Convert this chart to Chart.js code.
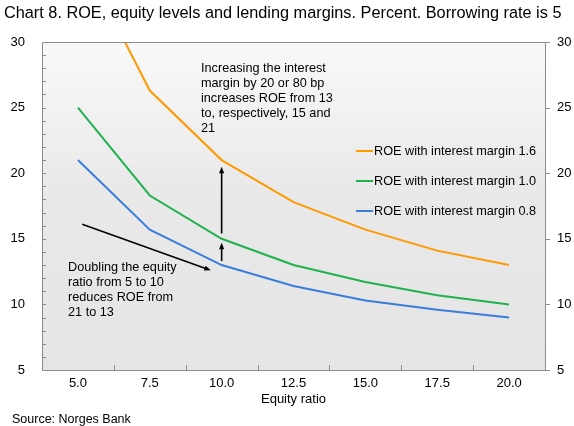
<!DOCTYPE html>
<html>
<head>
<meta charset="utf-8">
<script src="https://cdn.jsdelivr.net/npm/chart.js@4/dist/chart.umd.min.js"></script>
<style>
  html, body { margin: 0; padding: 0; background: #fff; }
  #wrap { width: 574px; height: 426px; position: relative; }
</style>
</head>
<body>
<div id="wrap"><canvas id="roeChart" width="574" height="426"></canvas></div>
<script>
const equityRatios = ["5.0", "7.5", "10.0", "12.5", "15.0", "17.5", "20.0"];
const roeMargin16 = [37, 26.3, 21, 17.8, 15.7, 14.1, 13];
const roeMargin10 = [25, 18.3, 15, 13, 11.7, 10.7, 10];
const roeMargin08 = [21, 15.7, 13, 11.4, 10.3, 9.6, 9];
const seriesNames = ["ROE with interest margin 1.6", "ROE with interest margin 1.0", "ROE with interest margin 0.8"];
const seriesColors = ["#ff9900", "#1fb24e", "#3b7ddb"];
const yMin = 5, yMax = 30;

const FONT = "'Liberation Sans', Arial, sans-serif";
const frameColor = "#8c8c8c";

function arrow(ctx, x1, y1, x2, y2) {
    const ang = Math.atan2(y2 - y1, x2 - x1);
    const head = 7, spread = 0.38;
    ctx.beginPath();
    ctx.moveTo(x1, y1);
    ctx.lineTo(x2 - Math.cos(ang) * 4, y2 - Math.sin(ang) * 4);
    ctx.stroke();
    ctx.beginPath();
    ctx.moveTo(x2, y2);
    ctx.lineTo(x2 - head * Math.cos(ang - spread), y2 - head * Math.sin(ang - spread));
    ctx.lineTo(x2 - head * Math.cos(ang + spread), y2 - head * Math.sin(ang + spread));
    ctx.closePath();
    ctx.fill();
}

// plot background, frame, custom ticks
const backdrop = {
    id: "backdrop",
    beforeDatasetsDraw(chart) {
        const { ctx, chartArea: a } = chart;
        ctx.save();
        const g = ctx.createLinearGradient(0, a.top, 0, a.bottom);
        g.addColorStop(0, "#f9f9f9");
        g.addColorStop(0.45, "#e9e9e9");
        g.addColorStop(1, "#e5e5e5");
        ctx.fillStyle = g;
        ctx.fillRect(a.left, a.top, a.right - a.left, a.bottom - a.top);
        ctx.restore();
    },
    afterDatasetsDraw(chart) {
        const { ctx, chartArea: a, scales } = chart;
        const y = scales.y, x = scales.x;
        ctx.save();
        ctx.strokeStyle = frameColor;
        ctx.lineWidth = 1;
        ctx.beginPath();
        ctx.rect(Math.round(a.left) + 0.5, Math.round(a.top) + 0.5, Math.round(a.right - a.left), Math.round(a.bottom - a.top));
        ctx.stroke();
        // left minor ticks, inward
        ctx.beginPath();
        for (let v = yMin + 1; v < yMax; v++) {
            const py = Math.round(y.getPixelForValue(v)) + 0.5;
            ctx.moveTo(a.left, py);
            ctx.lineTo(a.left + 4, py);
        }
        // right major ticks, outward
        for (let v = yMin; v <= yMax; v += 5) {
            const py = Math.round(y.getPixelForValue(v)) + 0.5;
            ctx.moveTo(a.right, py);
            ctx.lineTo(a.right + 5, py);
        }
        // x ticks at category boundaries, inward
        for (let i = 0; i < equityRatios.length - 1; i++) {
            const px = Math.round(x.getPixelForValue(i + 0.5)) + 0.5;
            ctx.moveTo(px, a.bottom);
            ctx.lineTo(px, a.bottom - 5);
        }
        ctx.stroke();
        ctx.restore();
    },
    afterDraw(chart) {
        const { ctx, chartArea: a, scales } = chart;
        const x = scales.x, y = scales.y;
        ctx.save();
        ctx.fillStyle = "#000";
        ctx.textBaseline = "middle";
        ctx.font = "16.3px " + FONT;
        ctx.fillText("Chart 8. ROE, equity levels and lending margins. Percent. Borrowing rate is 5", 4, 14);
        ctx.font = "13px " + FONT;
        ctx.textAlign = "center";
        ctx.fillText("Equity ratio", (a.left + a.right) / 2, 399);
        ctx.textAlign = "left";
        ctx.font = "12.5px " + FONT;
        ctx.fillText("Source: Norges Bank", 12, 420);

        // legend
        ctx.font = "12.7px " + FONT;
        const legY = [151, 181, 211];
        seriesNames.forEach((name, i) => {
            ctx.strokeStyle = seriesColors[i];
            ctx.lineWidth = 2;
            ctx.beginPath();
            ctx.moveTo(356, legY[i]);
            ctx.lineTo(373, legY[i]);
            ctx.stroke();
            ctx.fillStyle = "#000";
            ctx.fillText(name, 374, legY[i]);
        });

        // annotations
        const noteA = ["Increasing the interest", "margin by 20 or 80 bp", "increases ROE from 13", "to, respectively, 15 and", "21"];
        noteA.forEach((t, i) => ctx.fillText(t, 201, 68 + i * 15.2));
        const noteB = ["Doubling the equity", "ratio from 5 to 10", "reduces ROE from", "21 to 13"];
        noteB.forEach((t, i) => ctx.fillText(t, 68, 267 + i * 15.2));

        ctx.strokeStyle = "#000";
        ctx.fillStyle = "#000";
        ctx.lineWidth = 1.6;
        const x10 = x.getPixelForValue(2);
        arrow(ctx, x10, y.getPixelForValue(13.3), x10, y.getPixelForValue(14.7));
        arrow(ctx, x10, y.getPixelForValue(15.4), x10, y.getPixelForValue(20.5));
        arrow(ctx, x.getPixelForValue(0.06), y.getPixelForValue(16.1), x.getPixelForValue(1.85), y.getPixelForValue(12.6));
        ctx.restore();
    }
};

const makeSet = (label, data, color) => ({
    label, data,
    borderColor: color,
    backgroundColor: color,
    borderWidth: 2,
    pointRadius: 0,
    tension: 0,
    fill: false
});

new Chart(document.getElementById("roeChart"), {
    type: "line",
    data: {
        labels: equityRatios,
        datasets: [
            makeSet(seriesNames[0], roeMargin16, seriesColors[0]),
            makeSet(seriesNames[1], roeMargin10, seriesColors[1]),
            makeSet(seriesNames[2], roeMargin08, seriesColors[2])
        ]
    },
    options: {
        responsive: false,
        animation: false,
        events: [],
        layout: { padding: { top: 42, left: 0, right: 0, bottom: 0 } },
        plugins: { legend: { display: false }, tooltip: { enabled: false }, title: { display: false } },
        scales: {
            x: {
                offset: true,
                grid: { display: false, offset: true, drawTicks: false },
                border: { display: false },
                ticks: { color: "#000", font: { family: FONT, size: 13 }, padding: 6, maxRotation: 0 },
                afterFit(s) { s.height = 56; }
            },
            y: {
                position: "left",
                min: yMin, max: yMax,
                grid: { display: false, drawTicks: false },
                border: { display: false },
                ticks: { stepSize: 5, color: "#000", font: { family: FONT, size: 13 }, padding: 17 },
                afterFit(s) { s.width = 42; }
            },
            y2: {
                position: "right",
                min: yMin, max: yMax,
                grid: { display: false, drawTicks: false },
                border: { display: false },
                ticks: { stepSize: 5, color: "#000", font: { family: FONT, size: 13 }, padding: 12 },
                afterFit(s) { s.width = 29; }
            }
        }
    },
    plugins: [backdrop]
});
</script>
</body>
</html>
